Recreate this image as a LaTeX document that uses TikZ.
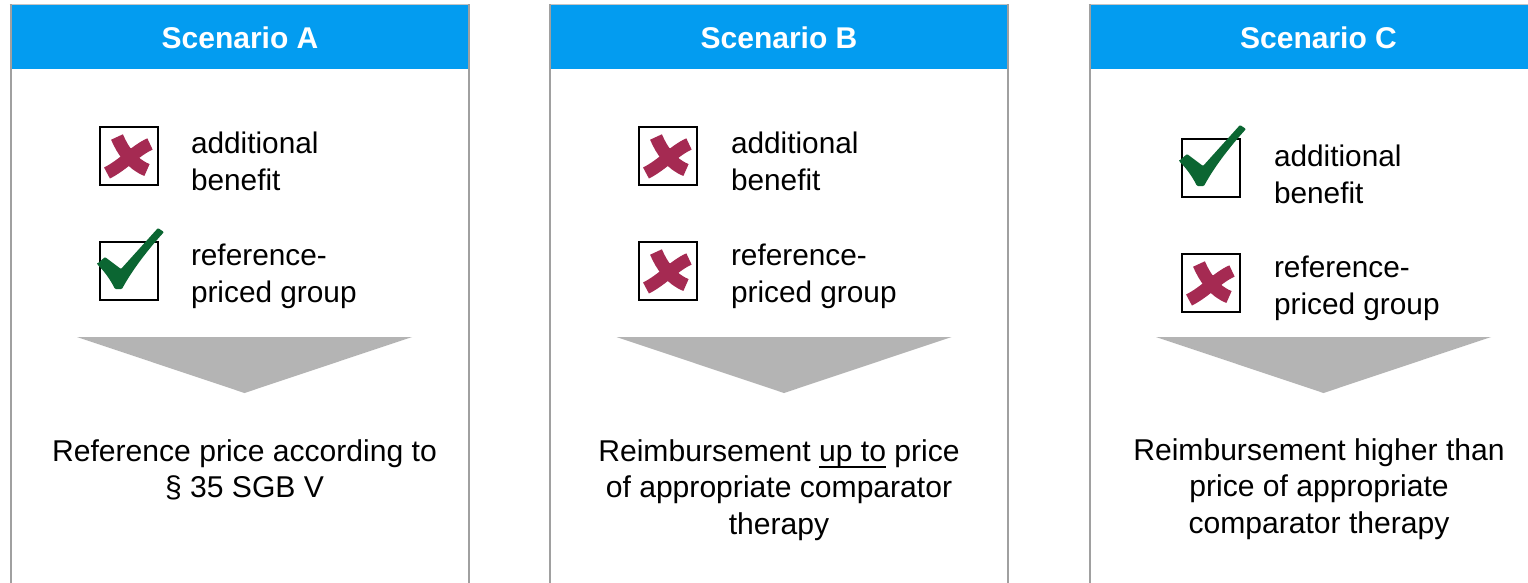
\documentclass[tikz,border=0pt]{standalone}
\usepackage{fontspec}
\setmainfont{Liberation Sans}
\definecolor{hdrblue}{HTML}{039CF0}
\definecolor{sidegray}{HTML}{A0A0A0}
\definecolor{topgray}{HTML}{C4C4C4}
\definecolor{arrgray}{HTML}{B4B4B4}
\definecolor{xred}{HTML}{A52A52}
\definecolor{ckgreen}{HTML}{0B6632}
\newcommand\lftlines[1]{\vtop{\baselineskip=37pt\lineskiplimit=-100pt\halign{##\hfil\cr#1\crcr}}}
\newcommand\ctrlines[1]{\vtop{\baselineskip=36.5pt\lineskiplimit=-100pt\halign{\hfil##\hfil\cr#1\crcr}}}
\newcommand\ulword[1]{\setbox0\hbox{#1}\rlap{\raisebox{-6.5pt}{\rule{\wd0}{2pt}}}\box0\relax}
\tikzset{
  bodytext/.style={inner sep=0pt, outer sep=0pt, font=\fontsize{29.8}{37}\selectfont, text=black},
  bottext/.style={inner sep=0pt, outer sep=0pt, font=\fontsize{30.1}{36.5}\selectfont, text=black, anchor=base},
  hdrtext/.style={inner sep=0pt, font=\fontsize{30}{36}\selectfont\bfseries, text=white, anchor=base},
  chkbox/.style={draw=black, line width=1.6pt, minimum width=58pt, minimum height=58pt, inner sep=0pt, outer sep=0pt, anchor=north west},
  crossmark/.pic={
    \draw[xred, line width=13pt] (17,10) .. controls (23,24) and (32,37) .. (47,43);
    \draw[xred, line width=12.5pt] (50,17) .. controls (36,23) and (23,38) .. (7,46);
    \fill[xred] (30,30) circle (9);
  },
  checkmark/.pic={
    \fill[ckgreen, rounded corners=1pt] (-3,22) -- (5,15) -- (21,27) -- (58,-14) -- (64,-10)
      .. controls (44,12) and (30,32) .. (22,47) -- (15,47) .. controls (10,37) and (4,29) .. cycle;
  },
}
\begin{document}
\begin{tikzpicture}[x=1pt,y=-1pt]
\useasboundingbox (0,0) rectangle (1528,582);
\fill[white] (0,0) rectangle (1528,582);
% panels
\foreach \L in {10.5,550,1089.5}{
  \fill[hdrblue] (\L,4) rectangle (\L+458,69);
  \draw[topgray, line width=1pt] (\L-1,4) -- (\L+459,4);
  \draw[sidegray, line width=2pt] (\L,4) -- (\L,590);
  \draw[sidegray, line width=2pt] (\L+458,4) -- (\L+458,590);
  \fill[arrgray] (\L+66.5,337) -- (\L+401.5,337) -- (\L+234,393) -- cycle;
}
% headers
\node[hdrtext] (hA) at (240,48) {Scenario A};
\node[hdrtext] (hB) at (779,48) {Scenario B};
\node[hdrtext] (hC) at (1318.5,48) {Scenario C};
% Scenario A
\node[chkbox] (a1) at (100,127) {};
\pic at (a1.north west) {crossmark};
\node[chkbox] (a2) at (100,242) {};
\pic at (a2.north west) {checkmark};
\node[bodytext, anchor=base west] (ta1) at (191,153) {\lftlines{additional\cr benefit}};
\node[bodytext, anchor=base west] (ta2) at (191,265) {\lftlines{reference-\cr priced group}};
\node[bottext] (ra) at (244.5,461) {\ctrlines{Reference price according to\cr \S\ 35 SGB V}};
% Scenario B
\node[chkbox] (b1) at (639,127) {};
\pic at (b1.north west) {crossmark};
\node[chkbox] (b2) at (639,242) {};
\pic at (b2.north west) {crossmark};
\node[bodytext, anchor=base west] (tb1) at (731,153) {\lftlines{additional\cr benefit}};
\node[bodytext, anchor=base west] (tb2) at (731,265) {\lftlines{reference-\cr priced group}};
\node[bottext] (rb) at (779,461) {\ctrlines{Reimbursement \ulword{up to} price\cr of appropriate comparator\cr therapy}};
% Scenario C
\node[chkbox] (c1) at (1182,139) {};
\pic at (c1.north west) {checkmark};
\node[chkbox] (c2) at (1182,254) {};
\pic at (c2.north west) {crossmark};
\node[bodytext, anchor=base west] (tc1) at (1274,166) {\lftlines{additional\cr benefit}};
\node[bodytext, anchor=base west] (tc2) at (1274,277) {\lftlines{reference-\cr priced group}};
\node[bottext] (rc) at (1319,460) {\ctrlines{Reimbursement higher than\cr price of appropriate\cr comparator therapy}};
\end{tikzpicture}
\end{document}
